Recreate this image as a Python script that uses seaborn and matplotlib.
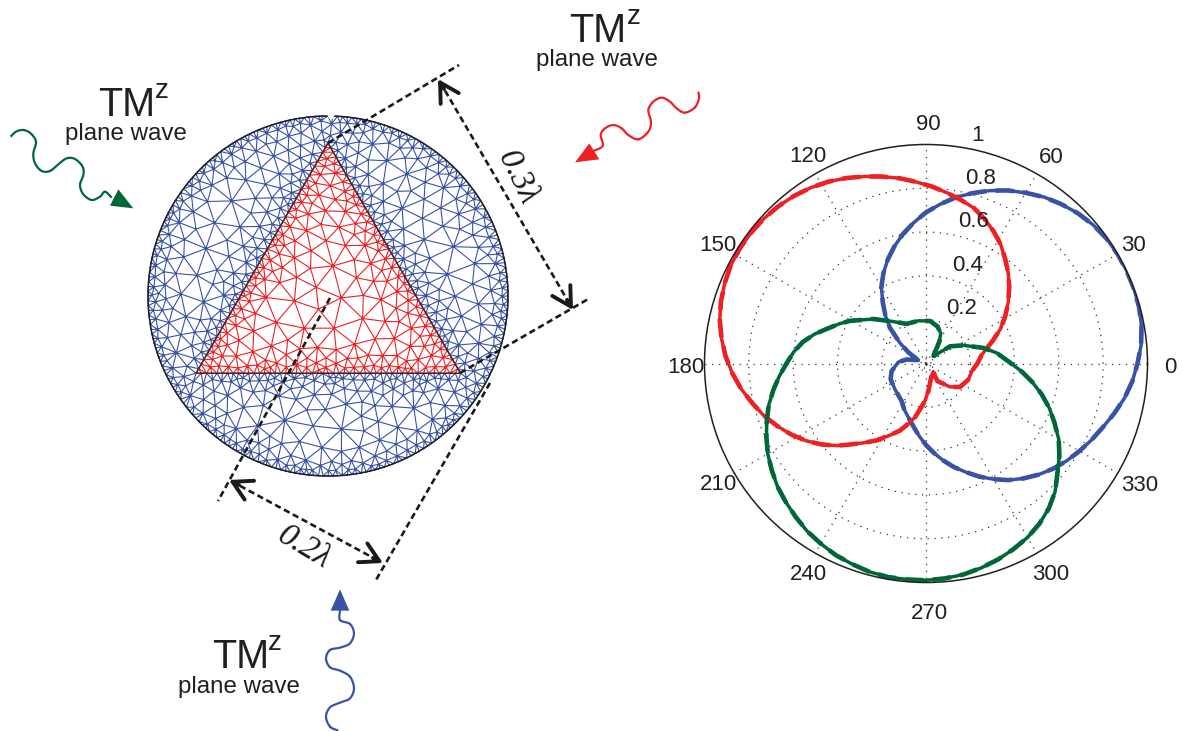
"""
Triangular cylinder mesh with three TM^z plane waves, next to its polar pattern.
"""

import matplotlib

matplotlib.use("Agg")
import matplotlib.pyplot as plt
import matplotlib.tri as mtri
import numpy as np
import seaborn as sns
from matplotlib.patches import Circle, Polygon

# polar pattern (angle in degrees, normalized magnitude)
blue_theta = [156.5, 168, 177, 192.6, 204, 220, 237, 245, 254.5, 260, 265, 270, 275, 280,
              285, 290, 295, 300, 305, 310, 315, 320, 325, 330, 335, 340, 345, 350, 355,
              0, 5, 10, 15, 20, 25, 30, 35, 40, 45, 50, 55, 60, 65, 70, 75, 80, 85, 90,
              95, 100, 105, 110, 115, 120, 125, 130, 135, 141.5, 147.3, 156.5]
blue_r = [0.038, 0.089, 0.125, 0.159, 0.175, 0.183, 0.203, 0.232, 0.27, 0.3, 0.335, 0.372,
          0.41, 0.45, 0.49, 0.528, 0.57, 0.61, 0.65, 0.685, 0.718, 0.748, 0.775, 0.80,
          0.825, 0.85, 0.88, 0.91, 0.935, 0.955, 0.975, 0.988, 0.996, 0.999, 1.0, 0.999,
          0.995, 0.985, 0.97, 0.95, 0.928, 0.90, 0.872, 0.84, 0.805, 0.77, 0.73, 0.69,
          0.645, 0.60, 0.553, 0.505, 0.455, 0.403, 0.34, 0.285, 0.23, 0.15, 0.095, 0.038]

red_theta = [310, 302.7, 315.4, 325, 339, 350.5, 0, 9, 19.6, 25, 31, 37, 43, 48, 53, 58,
             63, 68, 73, 78, 83, 88, 93, 98, 103, 108, 113, 118, 123, 128, 133, 138, 143,
             148, 153, 158, 163, 168, 173, 178, 183, 188, 193, 198, 203, 208, 213, 218,
             223, 227, 232, 237.6, 243, 249, 254, 258.6, 264, 268.5, 275, 282, 295, 310]
red_r = [0.051, 0.095, 0.152, 0.187, 0.205, 0.21, 0.232, 0.255, 0.323, 0.37, 0.417, 0.465,
         0.514, 0.555, 0.595, 0.638, 0.675, 0.71, 0.742, 0.763, 0.785, 0.808, 0.83, 0.854,
         0.876, 0.898, 0.92, 0.94, 0.957, 0.97, 0.98, 0.987, 0.99, 0.991, 0.989, 0.98,
         0.968, 0.952, 0.93, 0.905, 0.875, 0.842, 0.805, 0.77, 0.73, 0.69, 0.647, 0.60,
         0.55, 0.506, 0.46, 0.416, 0.37, 0.328, 0.285, 0.25, 0.2, 0.17, 0.125, 0.089,
         0.06, 0.051]

green_theta = [45, 59, 64.4, 73, 84.7, 100, 115.8, 127.7, 139.5, 150.5, 155, 160, 165, 170,
               175, 180, 185, 190, 195, 200, 205, 210, 215, 220, 225, 230, 235, 240, 245,
               250, 255, 260, 265, 270, 275, 280, 285, 290, 295, 300, 305, 310, 315, 320,
               325, 330, 335, 340, 345, 350, 355, 0, 8.6, 15.3, 26.2, 35.8, 45]
green_r = [0.047, 0.118, 0.154, 0.177, 0.195, 0.198, 0.201, 0.242, 0.313, 0.395, 0.43, 0.47,
           0.52, 0.565, 0.60, 0.63, 0.665, 0.70, 0.735, 0.765, 0.795, 0.825, 0.85, 0.875,
           0.895, 0.915, 0.935, 0.95, 0.965, 0.975, 0.985, 0.99, 0.99, 0.99, 0.985, 0.978,
           0.966, 0.952, 0.935, 0.917, 0.893, 0.863, 0.825, 0.775, 0.735, 0.692, 0.64,
           0.592, 0.54, 0.487, 0.435, 0.385, 0.323, 0.269, 0.188, 0.134, 0.047]

angle_ticks = [0, 30, 60, 90, 120, 150, 180, 210, 240, 270, 300, 330]
radius_ticks = [0.2, 0.4, 0.6, 0.8, 1.0]
radius_labels = ["0.2", "0.4", "0.6", "0.8", "1"]

BLUE = "#3953a4"
RED = "#ed2024"
GREEN = "#006838"
INK = "#231f20"
FONT = "Liberation Sans"

# nudges in pixels for the angle labels, the original ones are hand placed
LABEL_NUDGE = {0: (0, -4), 30: (-4, -3), 60: (3, -4), 90: (2, -3), 120: (4, -3), 150: (4, -3),
               180: (4, -4), 210: (4, 0), 240: (5, -1), 270: (3, -8), 300: (2, -1), 330: (2, -1)}

# mesh geometry in pixels
CX, CY, CR = 328.0, 296.0, 180.0
TRI = np.array([[328.0, 143.0], [196.0, 373.3], [460.5, 373.3]])


def segment_distance(p, a, b):
    ab = b - a
    t = np.clip(((p - a) @ ab) / (ab @ ab), 0, 1)
    return np.hypot(*(p - (a + t[:, None] * ab)).T)


def boundary_distance(p):
    d_circle = np.abs(np.hypot(p[:, 0] - CX, p[:, 1] - CY) - CR)
    d_tri = np.min([segment_distance(p, TRI[i], TRI[(i + 1) % 3]) for i in range(3)], axis=0)
    return np.minimum(d_circle, d_tri)


def inside_triangle(p):
    signs = []
    for i in range(3):
        a, b = TRI[i], TRI[(i + 1) % 3]
        signs.append((b[0] - a[0]) * (p[:, 1] - a[1]) - (b[1] - a[1]) * (p[:, 0] - a[0]))
    signs = np.array(signs)
    return np.all(signs > 0, axis=0) | np.all(signs < 0, axis=0)


def van_der_corput(n, base):
    out = np.zeros(n)
    for i in range(n):
        f, k, v = 1.0, i + 1, 0.0
        while k:
            f /= base
            v += f * (k % base)
            k //= base
        out[i] = v
    return out


def build_mesh():
    # boundary nodes first, then fill with a size field graded away from the edges
    ang = np.linspace(0, 2 * np.pi, 236, endpoint=False)
    nodes = [np.c_[CX + CR * np.cos(ang), CY + CR * np.sin(ang)]]
    for i in range(3):
        s = np.linspace(0, 1, 50, endpoint=False)[:, None]
        nodes.append(TRI[i] + s * (TRI[(i + 1) % 3] - TRI[i]))
    pts = np.vstack(nodes)
    n_fixed = len(pts)

    n = 60000
    cand = np.c_[CX - CR + 2 * CR * van_der_corput(n, 2), CY - CR + 2 * CR * van_der_corput(n, 3)]
    cand = cand[np.hypot(cand[:, 0] - CX, cand[:, 1] - CY) < CR - 2]
    size = np.minimum(4.4 + 0.3 * boundary_distance(cand), 21)
    accepted = np.zeros((len(cand) + n_fixed, 2))
    accepted[:n_fixed] = pts
    count = n_fixed
    for p, h in zip(cand, size):
        d = np.hypot(*(accepted[:count] - p).T)
        if d.min() > h:
            accepted[count] = p
            count += 1
    pts = accepted[:count]

    # a few rounds of Laplace smoothing so the triangles look like the original mesher's
    for _ in range(3):
        edges = mtri.Triangulation(pts[:, 0], pts[:, 1]).edges
        total = np.zeros_like(pts)
        degree = np.zeros(len(pts))
        np.add.at(total, edges[:, 0], pts[edges[:, 1]])
        np.add.at(total, edges[:, 1], pts[edges[:, 0]])
        np.add.at(degree, edges[:, 0], 1)
        np.add.at(degree, edges[:, 1], 1)
        pts[n_fixed:] = (total / degree[:, None])[n_fixed:]
    return pts


def smooth(points, steps=10):
    # Catmull-Rom through the traced points of a wave
    p = np.array(points, dtype=float)
    p = np.vstack([2 * p[0] - p[1], p, 2 * p[-1] - p[-2]])
    t = np.linspace(0, 1, steps)[:, None]
    out = []
    for i in range(1, len(p) - 2):
        p0, p1, p2, p3 = p[i - 1], p[i], p[i + 1], p[i + 2]
        out.append(0.5 * (2 * p1 + (p2 - p0) * t + (2 * p0 - 5 * p1 + 4 * p2 - p3) * t**2
                          + (3 * p1 - p0 - 3 * p2 + p3) * t**3))
    return np.vstack(out)


def draw_wave(ax, trace, head, origin, color):
    # trace and head were taken from 3x crops, origin is the crop corner
    w = smooth(np.array(trace) / 3 + origin)
    ax.plot(w[:, 0], w[:, 1], color=color, lw=1.6, solid_capstyle="butt")
    ax.add_patch(Polygon(np.array(head) / 3 + origin, closed=True, fc=color, ec="none", zorder=4))


def draw_label(ax, tm_xy, z_xy, wave_xy):
    ax.text(*tm_xy, "TM", fontsize=28.5, color=INK, family=FONT, va="baseline")
    ax.text(*z_xy, "z", fontsize=20, color=INK, family=FONT, va="baseline")
    ax.text(*wave_xy, "plane wave", fontsize=17.4, color=INK, family=FONT, va="baseline")


def draw_dashed(ax, a, b):
    ax.plot([a[0], b[0]], [a[1], b[1]], color="k", lw=1.9, ls=(0, (2.4, 1.4)), zorder=5)


def draw_tip(ax, tip, tail):
    ax.annotate("", xy=tip, xytext=tail,
                arrowprops=dict(arrowstyle="->,head_length=0.75,head_width=0.42",
                                color="k", lw=2.8, mutation_scale=18, shrinkA=0, shrinkB=0),
                zorder=6)


def draw_mesh_panel(ax):
    pts = build_mesh()
    triang = mtri.Triangulation(pts[:, 0], pts[:, 1])
    centers = pts[triang.triangles].mean(axis=1)
    in_tri = inside_triangle(centers)

    ax.triplot(mtri.Triangulation(pts[:, 0], pts[:, 1], triang.triangles[~in_tri]),
               color=BLUE, lw=0.8)
    ax.triplot(mtri.Triangulation(pts[:, 0], pts[:, 1], triang.triangles[in_tri]),
               color=RED, lw=0.8)
    ax.add_patch(Polygon(TRI, closed=True, fc="none", ec="#3a2a30", lw=1.0, zorder=3))
    ax.add_patch(Circle((CX, CY), CR, fc="none", ec=INK, lw=1.1, zorder=3))
    # little notch at the top of the outer circle
    ax.add_patch(Polygon([(326.5, 114), (335.5, 114), (331, 121)], fc="white", ec="none", zorder=4))

    draw_dashed(ax, (328, 143), (459, 65))
    draw_dashed(ax, (460, 373), (590, 298))
    draw_dashed(ax, (330, 298), (218, 501))
    draw_dashed(ax, (490, 383), (376, 580))
    draw_dashed(ax, (440, 82), (572, 308))
    draw_dashed(ax, (231, 481), (381, 562))
    draw_tip(ax, (438, 79), (444, 89))
    draw_tip(ax, (573, 310), (567, 300))
    draw_tip(ax, (229, 480), (239, 485))
    draw_tip(ax, (383, 563), (373, 558))

    lambda_font = dict(family="Liberation Serif", style="italic", fontsize=24, color="k",
                       ha="center", va="center", rotation_mode="anchor")
    ax.text(517, 178, "0.3\u03bb", rotation=-64, **lambda_font)
    ax.text(304, 547, "0.2\u03bb", rotation=-31, **lambda_font)

    draw_label(ax, (98, 116), (155, 98), (65, 140))
    draw_label(ax, (569, 42), (627, 24), (536, 66))
    draw_label(ax, (212, 668), (268, 650), (178, 693))

    draw_wave(ax, [(32, 185), (48, 170), (70, 165), (92, 175), (108, 200), (100, 235),
                   (105, 265), (125, 288), (150, 288), (175, 268), (200, 250), (225, 252),
                   (248, 275), (250, 300), (240, 330), (250, 358), (275, 375), (300, 365),
                   (315, 350), (335, 368)],
              [(400, 400), (355, 343), (330, 392)], (0, 75), GREEN)
    draw_wave(ax, [(535, 275), (537, 295), (525, 322), (495, 338), (470, 325), (450, 305),
                   (425, 293), (400, 305), (385, 330), (393, 365), (385, 395), (355, 418),
                   (325, 405), (305, 385), (280, 375), (255, 385), (242, 405), (248, 438),
                   (215, 455)],
              [(165, 487), (208, 430), (238, 478)], (520, 0), RED)
    draw_wave(ax, [(445, 452), (420, 440), (408, 410), (420, 382), (450, 368), (480, 355),
                   (492, 325), (480, 290), (450, 272), (420, 262), (408, 235), (420, 210),
                   (450, 203), (480, 190), (492, 160), (480, 132), (450, 120), (450, 90)],
              [(450, 28), (422, 92), (478, 92)], (190, 580), BLUE)


def draw_polar_panel(ax):
    for theta, r, color in [(blue_theta, blue_r, BLUE), (red_theta, red_r, RED),
                            (green_theta, green_r, GREEN)]:
        rad = np.radians(theta)
        sns.lineplot(x=rad, y=r, ax=ax, sort=False, estimator=None, color=color,
                     lw=2.5, legend=False)
        sns.lineplot(x=rad, y=r, ax=ax, sort=False, estimator=None, color=color,
                     lw=3.3, legend=False, linestyle=(0, (4, 2)))

    ax.set_rlim(0, 1)
    ax.set_rgrids([0.022] + radius_ticks[:-1], labels=[""] * 5)
    ax.set_thetagrids(angle_ticks, labels=[""] * len(angle_ticks))
    ax.grid(True, color="#333333", lw=0.9, ls=(0, (1, 4.5)))
    ax.set_xlabel("")
    ax.set_ylabel("")
    ax.spines["polar"].set_linewidth(1.1)
    ax.spines["polar"].set_color(INK)
    ax.set_aspect("auto")
    ax.patch.set_alpha(0)

    # angle labels just outside the rim
    for angle in angle_ticks:
        a = np.radians(angle)
        nudge_x, nudge_y = LABEL_NUDGE[angle]
        ax.annotate(str(angle), xy=(a, 1.0),
                    xytext=(23 * np.cos(a) + nudge_x, 23 * np.sin(a) + nudge_y),
                    textcoords="offset pixels", ha="center", va="center",
                    fontsize=16, color=INK, family=FONT, annotation_clip=False)
    # radial labels sit beside an 82 degree spoke, as the original plot has them
    for value, text in zip(radius_ticks, radius_labels):
        ax.annotate(text, xy=(np.radians(82), value), xytext=(14, 11.5),
                    textcoords="offset pixels", ha="left", va="center",
                    fontsize=16, color=INK, family=FONT, annotation_clip=False)


def main():
    sns.set_theme(style="white")
    plt.rcParams["font.family"] = [FONT, "DejaVu Sans"]
    fig = plt.figure(figsize=(11.83, 7.31), dpi=100)

    canvas = fig.add_axes([0, 0, 1, 1])
    canvas.set_xlim(0, 1183)
    canvas.set_ylim(731, 0)
    canvas.axis("off")
    draw_mesh_panel(canvas)

    polar = fig.add_axes([704.5 / 1183, (731 - 582.5) / 731, 443 / 1183, 438 / 731],
                         projection="polar")
    draw_polar_panel(polar)

    fig.savefig("out.png", dpi=100)


if __name__ == "__main__":
    main()
